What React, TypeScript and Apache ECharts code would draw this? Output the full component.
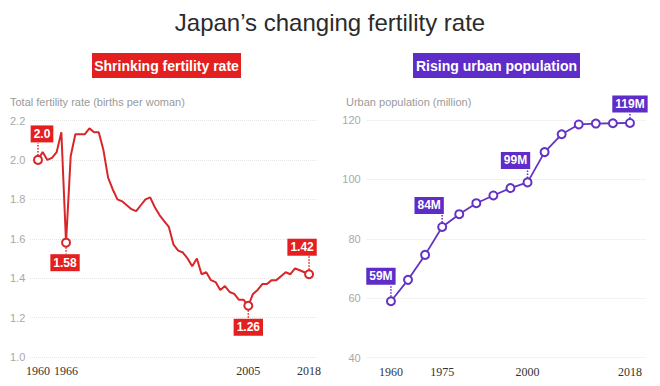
import React, { useEffect, useRef } from "react";
import * as echarts from "echarts";

// Total fertility rate, Japan (births per woman)
const fertilityYears = [
  1960, 1961, 1962, 1963, 1964, 1965, 1966, 1967, 1968, 1969,
  1970, 1971, 1972, 1973, 1974, 1975, 1976, 1977, 1978, 1979,
  1980, 1981, 1982, 1983, 1984, 1985, 1986, 1987, 1988, 1989,
  1990, 1991, 1992, 1993, 1994, 1995, 1996, 1997, 1998, 1999,
  2000, 2001, 2002, 2003, 2004, 2005, 2006, 2007, 2008, 2009,
  2010, 2011, 2012, 2013, 2014, 2015, 2016, 2017, 2018,
];
const fertilityRates = [
  2.0, 2.04, 2.0, 2.01, 2.04, 2.14, 1.58, 2.02, 2.13, 2.13,
  2.13, 2.16, 2.14, 2.14, 2.05, 1.91, 1.85, 1.8, 1.79, 1.77,
  1.75, 1.74, 1.77, 1.8, 1.81, 1.76, 1.72, 1.69, 1.66, 1.57,
  1.54, 1.53, 1.5, 1.46, 1.5, 1.42, 1.43, 1.39, 1.38, 1.34,
  1.36, 1.33, 1.32, 1.29, 1.29, 1.26, 1.32, 1.34, 1.37, 1.37,
  1.39, 1.39, 1.41, 1.43, 1.42, 1.45, 1.44, 1.43, 1.42,
];
const fertilityTickYears = [1960, 1966, 2005, 2018];
const fertilityTicks = [1.0, 1.2, 1.4, 1.6, 1.8, 2.0, 2.2];

// Urban population, Japan (million)
const urbanYears = [
  "1960", "1965", "1970", "1975", "1980", "1985", "1990", "1995",
  "2000", "2005", "2010", "2015", "2016", "2017", "2018",
];
const urbanPopulation = [
  59, 66.2, 74.6, 84, 88.3, 92.0, 94.6, 97.1,
  99, 109.2, 115.2, 118.5, 118.8, 118.9, 119,
];
const urbanTickYears = ["1960", "1975", "2000", "2018"];
const urbanTicks = [40, 60, 80, 100, 120];

// Highlighted points with their callouts
const fertilityCallouts = [
  { year: 1960, digits: 1, side: "above", dx: 4, gap: 17 },
  { year: 1966, digits: 2, side: "below", dx: -1, gap: 11 },
  { year: 2005, digits: 2, side: "below", dx: 0, gap: 12.5 },
  { year: 2018, digits: 2, side: "above", dx: -7, gap: 18 },
];
const urbanCallouts = [
  { year: "1960", side: "above", dx: -10, gap: 16 },
  { year: "1975", side: "above", dx: -13, gap: 12.5 },
  { year: "2000", side: "above", dx: -12, gap: 13 },
  { year: "2018", side: "above", dx: 0, gap: 10 },
];

const RED = "#d8262a";
const RED_BADGE = "#e41f1f";
const PURPLE = "#6334c4";
const PURPLE_BADGE = "#5e2cc9";
const SANS = "'Liberation Sans', Arial, sans-serif";
const SERIF = "'Liberation Serif', 'Times New Roman', serif";

export default function App() {
  const ref = useRef<HTMLDivElement>(null);

  useEffect(() => {
    document.body.style.margin = "0";
    const chart = echarts.init(ref.current!, null, { renderer: "svg" });

    const fertHighlighted = new Set(fertilityCallouts.map((c) => c.year));

    const yLabel = { color: "#a8a8a8", fontSize: 11, fontFamily: SANS };
    const xLabel = { color: "#333", fontSize: 12, fontFamily: SERIF, margin: 8 };
    const split = { show: true, lineStyle: { color: "#e6e6e6", type: "dotted" as const, width: 1 } };

    chart.setOption({
      animation: false,
      backgroundColor: "#fff",
      grid: [
        { left: 30, top: 120.5, width: 287, height: 236.5 },
        { left: 366.7, top: 120, width: 280, height: 237.7 },
      ],
      xAxis: [
        {
          type: "value",
          gridIndex: 0,
          min: 1958.29,
          max: 2019.7,
          axisLine: { show: false },
          axisTick: { show: false },
          splitLine: { show: false },
          axisLabel: { ...xLabel, customValues: fertilityTickYears, formatter: (v: number) => String(v) },
        },
        {
          type: "value",
          gridIndex: 1,
          min: -1.42,
          max: 14.98,
          axisLine: { show: false },
          axisTick: { show: false },
          splitLine: { show: false },
          axisLabel: {
            ...xLabel,
            customValues: urbanTickYears.map((y) => urbanYears.indexOf(y)),
            formatter: (v: number) => urbanYears[Math.round(v)] ?? "",
          },
        },
      ],
      yAxis: [
        {
          type: "value",
          gridIndex: 0,
          min: fertilityTicks[0],
          max: fertilityTicks[fertilityTicks.length - 1],
          interval: 0.2,
          axisLine: { show: false },
          axisTick: { show: false },
          splitLine: split,
          axisLabel: { ...yLabel, align: "left", margin: 20, formatter: (v: number) => v.toFixed(1) },
        },
        {
          type: "value",
          gridIndex: 1,
          min: urbanTicks[0],
          max: urbanTicks[urbanTicks.length - 1],
          interval: 20,
          axisLine: { show: false },
          axisTick: { show: false },
          splitLine: split,
          axisLabel: { ...yLabel, margin: 6 },
        },
      ],
      series: [
        {
          type: "line",
          xAxisIndex: 0,
          yAxisIndex: 0,
          data: fertilityYears.map((y, i) => [y, fertilityRates[i]]),
          symbol: "emptyCircle",
          showSymbol: true,
          showAllSymbol: true,
          symbolSize: (v: number[]) => (fertHighlighted.has(v[0]) ? 8 : 0),
          lineStyle: { color: RED, width: 2 },
          itemStyle: { color: RED, borderWidth: 1.8 },
          z: 3,
        },
        {
          type: "line",
          xAxisIndex: 1,
          yAxisIndex: 1,
          data: urbanYears.map((_, i) => [i, urbanPopulation[i]]),
          symbol: "emptyCircle",
          showSymbol: true,
          showAllSymbol: true,
          symbolSize: 8,
          lineStyle: { color: PURPLE, width: 1.8 },
          itemStyle: { color: PURPLE, borderWidth: 1.6 },
          z: 3,
        },
      ],
    });

    const graphics: any[] = [
      {
        type: "text",
        x: 330,
        y: 22,
        style: {
          text: "Japan\u2019s changing fertility rate",
          font: `400 24px ${SANS}`,
          fill: "#2b2b2b",
          align: "center",
          verticalAlign: "middle",
        },
      },
      { type: "rect", shape: { x: 92, y: 53, width: 149, height: 25 }, style: { fill: RED_BADGE } },
      {
        type: "text",
        x: 166.5,
        y: 65.5,
        style: { text: "Shrinking fertility rate", font: `bold 14px ${SANS}`, fill: "#fff", align: "center", verticalAlign: "middle" },
      },
      { type: "rect", shape: { x: 413, y: 53, width: 167, height: 25 }, style: { fill: PURPLE_BADGE } },
      {
        type: "text",
        x: 496.5,
        y: 65.5,
        style: { text: "Rising urban population", font: `bold 14px ${SANS}`, fill: "#fff", align: "center", verticalAlign: "middle" },
      },
      {
        type: "text",
        x: 10,
        y: 102,
        style: { text: "Total fertility rate (births per woman)", font: `11px ${SANS}`, fill: "#9a9a9a", verticalAlign: "middle" },
      },
      {
        type: "text",
        x: 346,
        y: 102,
        style: { text: "Urban population (million)", font: `11px ${SANS}`, fill: "#9a9a9a", verticalAlign: "middle" },
      },
    ];

    const addCallout = (px: number[], text: string, side: string, dx: number, gap: number, color: string) => {
      const boxH = 18;
      const above = side === "above";
      const edge = above ? px[1] - gap : px[1] + gap;
      graphics.push({
        type: "line",
        shape: { x1: px[0], y1: above ? px[1] - 4.5 : px[1] + 4.5, x2: px[0], y2: edge },
        style: { stroke: color, lineWidth: 1.5, lineDash: [1.5, 1.5] },
        z: 5,
      });
      graphics.push({
        type: "text",
        x: px[0] + dx,
        y: above ? edge - boxH / 2 : edge + boxH / 2,
        style: {
          text,
          font: `bold 12px ${SANS}`,
          fill: "#fff",
          backgroundColor: color,
          padding: [3, 3, 2, 3],
          align: "center",
          verticalAlign: "middle",
        },
        z: 6,
      });
    };

    fertilityCallouts.forEach((c) => {
      const v = fertilityRates[fertilityYears.indexOf(c.year)];
      const px = chart.convertToPixel({ gridIndex: 0 }, [c.year, v]) as number[];
      addCallout(px, v.toFixed(c.digits), c.side, c.dx, c.gap, RED_BADGE);
    });
    urbanCallouts.forEach((c) => {
      const i = urbanYears.indexOf(c.year);
      const v = urbanPopulation[i];
      const px = chart.convertToPixel({ gridIndex: 1 }, [i, v]) as number[];
      addCallout(px, `${Math.round(v)}M`, c.side, c.dx, c.gap, PURPLE_BADGE);
    });

    chart.setOption({ graphic: graphics });

    return () => chart.dispose();
  }, []);

  return <div ref={ref} style={{ width: 660, height: 386 }} />;
}
